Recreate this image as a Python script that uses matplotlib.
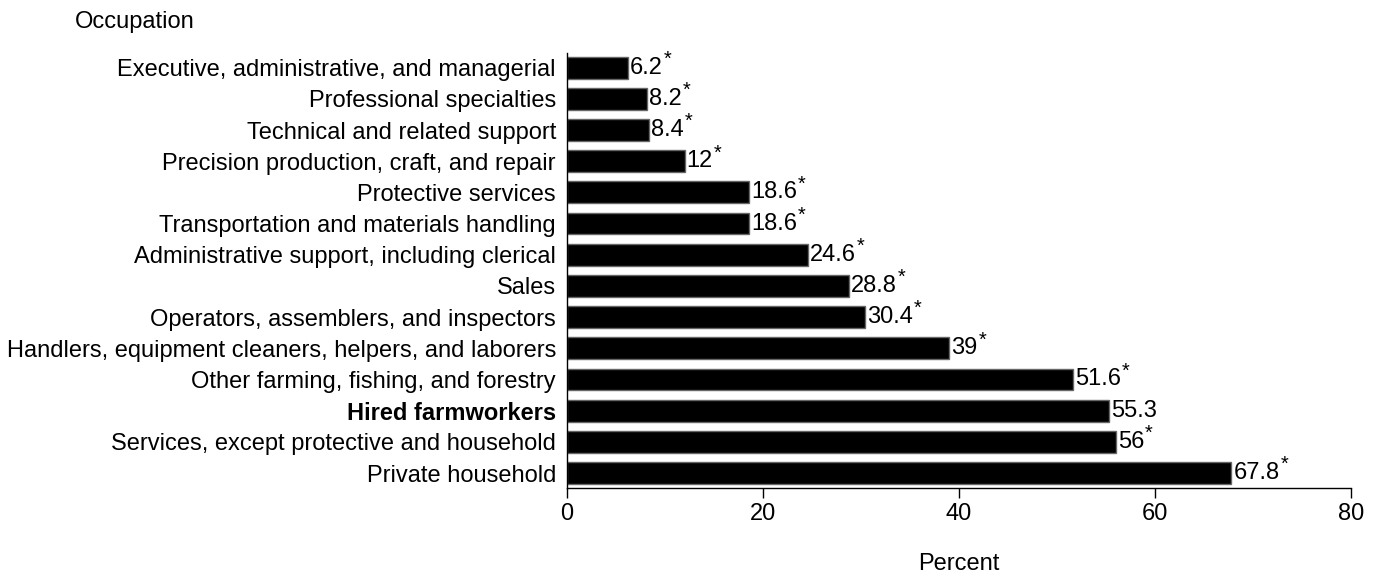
import matplotlib
matplotlib.use("Agg")
import matplotlib.pyplot as plt
from matplotlib.transforms import offset_copy

plt.rcParams['font.family'] = ['Liberation Sans', 'DejaVu Sans']

occupations = [
    "Executive, administrative, and managerial",
    "Professional specialties",
    "Technical and related support",
    "Precision production, craft, and repair",
    "Protective services",
    "Transportation and materials handling",
    "Administrative support, including clerical",
    "Sales",
    "Operators, assemblers, and inspectors",
    "Handlers, equipment cleaners, helpers, and laborers",
    "Other farming, fishing, and forestry",
    "Hired farmworkers",
    "Services, except protective and household",
    "Private household",
]
percent = [6.2, 8.2, 8.4, 12, 18.6, 18.6, 24.6, 28.8, 30.4, 39, 51.6, 55.3, 56, 67.8]
value_labels = ["6.2", "8.2", "8.4", "12", "18.6", "18.6", "24.6", "28.8", "30.4",
                "39", "51.6", "55.3", "56", "67.8"]
significant = [True] * 11 + [False] + [True] * 2
x_ticks = [0, 20, 40, 60, 80]

fs = 17

fig = plt.figure(figsize=(13.8, 5.75), dpi=100)
ax = fig.add_axes([0.4109, 0.1513, 0.979 - 0.4109, 0.9078 - 0.1513])

pos = list(range(len(occupations)))
ax.barh(pos, percent, height=0.7, color='black', edgecolor='#666666', linewidth=1)
ax.set_ylim(len(occupations) - 0.52, -0.47)
ax.set_xlim(0, 80)
ax.set_xticks(x_ticks)
ax.set_xticklabels([str(t) for t in x_ticks], fontsize=fs)
ax.set_yticks(pos)
ax.set_yticklabels(occupations, fontsize=fs)
for lbl in ax.get_yticklabels():
    if lbl.get_text() == "Hired farmworkers":
        lbl.set_fontweight('bold')
ax.tick_params(axis='y', length=0, pad=8)
ax.tick_params(axis='x', length=7, width=1, pad=4)
for s in ['top', 'right']:
    ax.spines[s].set_visible(False)
ax.spines['left'].set_linewidth(1)
ax.spines['bottom'].set_linewidth(1)

ax.set_xlabel("Percent", fontsize=fs, labelpad=20)
fig.text(0.054, 0.962, "Occupation", fontsize=fs, ha='left', va='center')

fig.canvas.draw()
renderer = fig.canvas.get_renderer()
val_tr = offset_copy(ax.transData, fig=fig, x=1.5, y=0, units='points')
for p, v, lab, sig in zip(pos, percent, value_labels, significant):
    t = ax.text(v, p, lab, va='center', ha='left', fontsize=fs, transform=val_tr)
    if sig:
        bb = t.get_window_extent(renderer)
        x_end, _ = ax.transData.inverted().transform((bb.x1, 0))
        tr = offset_copy(ax.transData, fig=fig, x=0.5, y=6, units='points')
        ax.text(x_end, p, "*", va='center', ha='left', fontsize=fs * 0.85, transform=tr)

fig.savefig("out.png", dpi=100)
